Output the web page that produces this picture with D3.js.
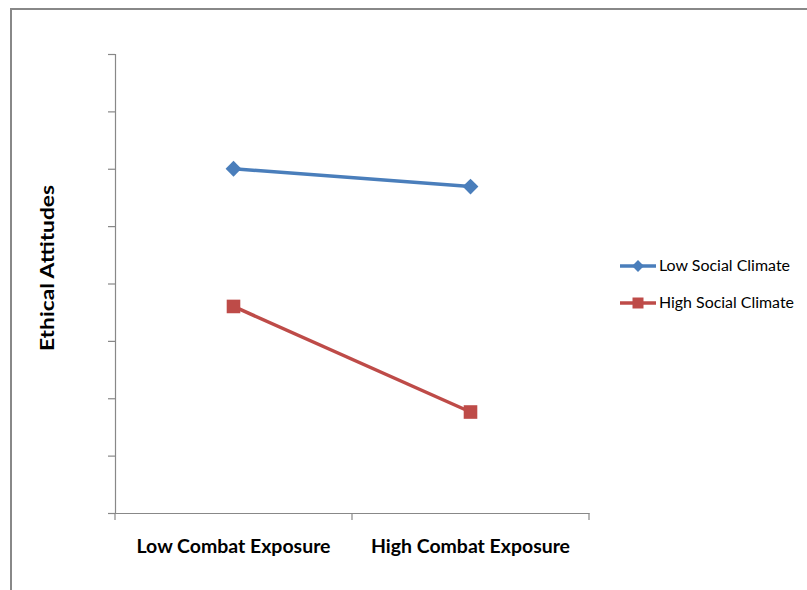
<!DOCTYPE html>
<html>
<head>
<meta charset="utf-8">
<script src="https://cdn.jsdelivr.net/npm/d3@7"></script>
<style>
  html, body { margin: 0; padding: 0; background: #fff; }
  svg { display: block; }
</style>
</head>
<body>
<svg id="chart" width="807" height="590"></svg>
<script>
// ---- data ----
const categories = ["Low Combat Exposure", "High Combat Exposure"];
const seriesNames = ["Low Social Climate", "High Social Climate"];
const lowSocialClimate = [6.0, 5.69];
const highSocialClimate = [3.6, 1.76];
const yTicks = [0, 1, 2, 3, 4, 5, 6, 7, 8];
const yAxisTitle = "Ethical Attitudes";

const colors = ["#4a7ebb", "#be4b48"];
const series = [
  { name: seriesNames[0], values: lowSocialClimate, color: colors[0], shape: "diamond" },
  { name: seriesNames[1], values: highSocialClimate, color: colors[1], shape: "square" }
];

const svg = d3.select("#chart");
const font = "Lato, 'Open Sans', sans-serif";

// outer frame (top and left edges visible)
svg.append("line").attr("x1", 11).attr("x2", 807).attr("y1", 9).attr("y2", 9)
  .attr("stroke", "#888").attr("stroke-width", 2);
svg.append("line").attr("x1", 11).attr("x2", 11).attr("y1", 8).attr("y2", 590)
  .attr("stroke", "#888").attr("stroke-width", 2);

const plot = { left: 115, right: 589, top: 54, bottom: 513 };

const x = d3.scaleBand().domain(categories).range([plot.left, plot.right]);
const y = d3.scaleLinear().domain([0, 8]).range([plot.bottom, plot.top]);

// y axis
const yAxis = d3.axisLeft(y).tickValues(yTicks).tickSize(7).tickFormat("");
const gy = svg.append("g").attr("transform", `translate(${plot.left},0)`).call(yAxis);
gy.select(".domain").attr("stroke", "#888").attr("stroke-width", 1.2);
gy.selectAll(".tick line").attr("stroke", "#888").attr("stroke-width", 1.2);

// x axis
const xAxis = d3.axisBottom(x).tickSize(0).tickFormat(d => d);
const gx = svg.append("g").attr("transform", `translate(0,${plot.bottom})`).call(xAxis);
gx.select(".domain").attr("stroke", "#888").attr("stroke-width", 1.2);
gx.selectAll(".tick text")
  .attr("font-family", font).attr("font-weight", "bold")
  .attr("font-size", 19).attr("fill", "#000").attr("dy", 0).attr("y", 40)
  .attr("textLength", (d, i) => i === 0 ? 194 : 199).attr("lengthAdjust", "spacingAndGlyphs");
// category boundary ticks
const boundaries = [plot.left, x(categories[1]), plot.right];
svg.selectAll("line.bnd").data(boundaries).enter().append("line")
  .attr("class", "bnd")
  .attr("x1", d => d).attr("x2", d => d)
  .attr("y1", plot.bottom).attr("y2", plot.bottom + 7)
  .attr("stroke", "#888").attr("stroke-width", 1.2);

// y axis title
svg.append("text")
  .attr("transform", `translate(54,268) rotate(-90)`)
  .attr("text-anchor", "middle")
  .attr("font-family", font).attr("font-weight", "bold")
  .attr("font-size", 19).attr("fill", "#000")
  .attr("textLength", 166).attr("lengthAdjust", "spacingAndGlyphs")
  .text(yAxisTitle);

// lines
const cx = d => x(d) + x.bandwidth() / 2;
const line = d3.line().x((v, i) => cx(categories[i])).y(v => y(v));

series.forEach(s => {
  svg.append("path").datum(s.values)
    .attr("d", line).attr("fill", "none")
    .attr("stroke", s.color).attr("stroke-width", 3.5);
  const sym = s.shape === "diamond"
    ? d3.symbol().type(d3.symbolSquare).size(125)
    : d3.symbol().type(d3.symbolSquare).size(185);
  svg.selectAll(null).data(s.values).enter().append("path")
    .attr("d", sym)
    .attr("transform", (v, i) => `translate(${cx(categories[i])},${y(v)})` + (s.shape === "diamond" ? " rotate(45)" : ""))
    .attr("fill", s.color);
});

// legend
const legend = svg.append("g");
series.forEach((s, i) => {
  const ly = 266 + i * 37;
  legend.append("line").attr("x1", 620).attr("x2", 656).attr("y1", ly).attr("y2", ly)
    .attr("stroke", s.color).attr("stroke-width", 3.5);
  const sym = s.shape === "diamond"
    ? d3.symbol().type(d3.symbolSquare).size(70)
    : d3.symbol().type(d3.symbolSquare).size(121);
  legend.append("path").attr("d", sym)
    .attr("transform", `translate(638,${ly})` + (s.shape === "diamond" ? " rotate(45)" : ""))
    .attr("fill", s.color);
  legend.append("text").attr("x", 659).attr("y", ly + 5)
    .attr("font-family", font).attr("font-size", 15.5).attr("fill", "#000")
    .attr("textLength", i === 0 ? 131 : 135).attr("lengthAdjust", "spacingAndGlyphs")
    .text(s.name);
});
</script>
</body>
</html>
